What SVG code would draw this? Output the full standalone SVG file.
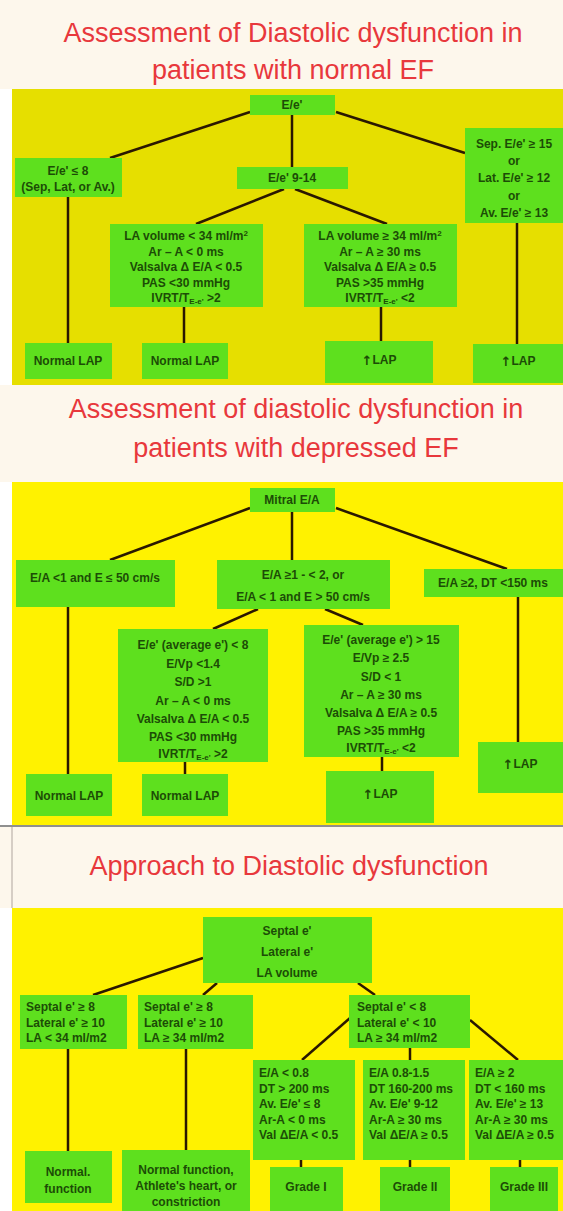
<svg xmlns="http://www.w3.org/2000/svg" width="563" height="1211" viewBox="0 0 563 1211">
<style>
.band{fill:#fdf7ec}
.p1{fill:#e6df00}
.p2{fill:#fff200}
.box{fill:#5ee01e}
.t{font-family:"Liberation Sans",Arial,sans-serif;font-weight:bold;font-size:12px;fill:#1c4c06;text-anchor:middle;dominant-baseline:central}
.tl{font-family:"Liberation Sans",Arial,sans-serif;font-weight:bold;font-size:12px;fill:#1c4c06;dominant-baseline:central}
.title{font-family:"Liberation Sans",Arial,sans-serif;font-size:27px;fill:#e8383c;text-anchor:middle}
.sub{font-size:8px}
.up{font-family:"DejaVu Sans",sans-serif;font-size:13px}
#connectors line{stroke:#2a1800;stroke-width:2.5}
</style>
<!-- backgrounds -->
<rect class="band" x="0" y="0" width="563" height="89"/>
<rect class="p1" x="12" y="89" width="551" height="296"/>
<rect class="band" x="0" y="385" width="563" height="97"/>
<rect class="p2" x="12" y="482" width="551" height="343"/>
<line x1="0" y1="826" x2="563" y2="826" stroke="#6a6a6a" stroke-width="1.5"/>
<rect class="band" x="0" y="827" width="563" height="81"/>
<line x1="12" y1="827" x2="12" y2="908" stroke="#c8c0b8" stroke-width="1.5"/>
<rect class="p2" x="12" y="908" width="551" height="303"/>
<text class="title" x="293" y="42">Assessment of Diastolic dysfunction in</text>
<text class="title" x="293" y="79">patients with normal EF</text>
<text class="title" x="296" y="418">Assessment of diastolic dysfunction in</text>
<text class="title" x="296" y="457">patients with depressed EF</text>
<text class="title" x="289" y="875">Approach to Diastolic dysfunction</text>

<g id="connectors">
<!-- section 1 -->
<line x1="250" y1="112" x2="110" y2="158"/>
<line x1="292" y1="115" x2="292" y2="167"/>
<line x1="336" y1="112" x2="465" y2="153"/>
<line x1="284" y1="189" x2="196" y2="224"/>
<line x1="295" y1="189" x2="387" y2="224"/>
<line x1="68" y1="197" x2="68" y2="343"/>
<line x1="184" y1="307" x2="184" y2="343"/>
<line x1="381" y1="307" x2="381" y2="341"/>
<line x1="517" y1="223" x2="517" y2="344"/>
<!-- section 2 -->
<line x1="250" y1="508" x2="110" y2="560"/>
<line x1="292" y1="512" x2="292" y2="560"/>
<line x1="336" y1="508" x2="507" y2="569"/>
<line x1="258" y1="609" x2="213" y2="629"/>
<line x1="325" y1="609" x2="363" y2="625"/>
<line x1="68" y1="607" x2="68" y2="774"/>
<line x1="185" y1="762" x2="185" y2="774"/>
<line x1="382" y1="757" x2="382" y2="771"/>
<line x1="518" y1="597" x2="518" y2="742"/>
<!-- section 3 -->
<line x1="203" y1="958" x2="93" y2="995"/>
<line x1="217" y1="983" x2="203" y2="995"/>
<line x1="358" y1="983" x2="375" y2="995"/>
<line x1="350" y1="1018" x2="302" y2="1060"/>
<line x1="410" y1="1048" x2="410" y2="1060"/>
<line x1="470" y1="1020" x2="518" y2="1060"/>
<line x1="68" y1="1049" x2="68" y2="1151"/>
<line x1="186" y1="1049" x2="186" y2="1150"/>
<line x1="301" y1="1160" x2="301" y2="1167"/>
<line x1="410" y1="1160" x2="410" y2="1167"/>
<line x1="520" y1="1160" x2="520" y2="1167"/>
</g>

<!-- Section 1 nodes -->
<g id="s1-ee">
<rect class="box" x="250" y="95" width="85" height="20"/>
<text class="t" x="292" y="105">E/e'</text>
</g>
<g id="s1-le8">
<rect class="box" x="15" y="158" width="107" height="39"/>
<text class="t" x="68" y="171">E/e' ≤ 8</text>
<text class="t" x="68" y="187">(Sep, Lat, or Av.)</text>
</g>
<g id="s1-914">
<rect class="box" x="237" y="167" width="111" height="22"/>
<text class="t" x="292" y="178">E/e' 9-14</text>
</g>
<g id="s1-ge15">
<rect class="box" x="465" y="128" width="98" height="95"/>
<text class="t" x="514" y="144">Sep. E/e' ≥ 15</text>
<text class="t" x="514" y="161">or</text>
<text class="t" x="514" y="178">Lat. E/e' ≥ 12</text>
<text class="t" x="514" y="196">or</text>
<text class="t" x="514" y="213">Av. E/e' ≥ 13</text>
</g>
<g id="s1-la-lt">
<rect class="box" x="110" y="224" width="153" height="83"/>
<text class="t" x="186" y="236">LA volume &lt; 34 ml/m<tspan class="sub" dy="-3">2</tspan></text>
<text class="t" x="186" y="252">Ar – A &lt; 0 ms</text>
<text class="t" x="186" y="267">Valsalva Δ E/A &lt; 0.5</text>
<text class="t" x="186" y="283">PAS &lt;30 mmHg</text>
<text class="t" x="186" y="298">IVRT/T<tspan class="sub" dy="3">E-e'</tspan><tspan dy="-3"> &gt;2</tspan></text>
</g>
<g id="s1-la-ge">
<rect class="box" x="304" y="224" width="153" height="83"/>
<text class="t" x="380" y="236">LA volume  ≥ 34 ml/m<tspan class="sub" dy="-3">2</tspan></text>
<text class="t" x="380" y="252">Ar – A ≥ 30 ms</text>
<text class="t" x="380" y="267">Valsalva Δ E/A ≥ 0.5</text>
<text class="t" x="380" y="283">PAS &gt;35 mmHg</text>
<text class="t" x="380" y="298">IVRT/T<tspan class="sub" dy="3">E-e'</tspan><tspan dy="-3"> &lt;2</tspan></text>
</g>
<g id="s1-out1">
<rect class="box" x="25" y="343" width="87" height="36"/>
<text class="t" x="68" y="361">Normal LAP</text>
</g>
<g id="s1-out2">
<rect class="box" x="142" y="343" width="86" height="36"/>
<text class="t" x="185" y="361">Normal LAP</text>
</g>
<g id="s1-out3">
<rect class="box" x="325" y="341" width="108" height="42"/>
<text class="t" x="379" y="360"><tspan class="up">↑</tspan>LAP</text>
</g>
<g id="s1-out4">
<rect class="box" x="473" y="344" width="90" height="39"/>
<text class="t" x="518" y="361"><tspan class="up">↑</tspan>LAP</text>
</g>

<!-- Section 2 nodes -->
<g id="s2-mitral">
<rect class="box" x="250" y="488" width="85" height="24"/>
<text class="t" x="292" y="500">Mitral E/A</text>
</g>
<g id="s2-left">
<rect class="box" x="16" y="560" width="159" height="47"/>
<text class="t" x="95" y="578">E/A &lt;1 and E ≤ 50 cm/s</text>
</g>
<g id="s2-mid">
<rect class="box" x="217" y="560" width="173" height="49"/>
<text class="t" x="303" y="575">E/A ≥1 - &lt; 2, or</text>
<text class="t" x="303" y="597">E/A &lt; 1 and E &gt; 50 cm/s</text>
</g>
<g id="s2-right">
<rect class="box" x="424" y="569" width="139" height="28"/>
<text class="t" x="493" y="583">E/A ≥2, DT &lt;150 ms</text>
</g>
<g id="s2-crit-low">
<rect class="box" x="118" y="629" width="150" height="133"/>
<text class="t" x="193" y="645">E/e' (average e') &lt; 8</text>
<text class="t" x="193" y="664">E/Vp &lt;1.4</text>
<text class="t" x="193" y="682">S/D &gt;1</text>
<text class="t" x="193" y="701">Ar – A &lt; 0 ms</text>
<text class="t" x="193" y="719">Valsalva Δ E/A &lt; 0.5</text>
<text class="t" x="193" y="737">PAS &lt;30 mmHg</text>
<text class="t" x="193" y="754">IVRT/T<tspan class="sub" dy="3">E-e'</tspan><tspan dy="-3"> &gt;2</tspan></text>
</g>
<g id="s2-crit-high">
<rect class="box" x="304" y="625" width="155" height="132"/>
<text class="t" x="381" y="640">E/e' (average e') &gt; 15</text>
<text class="t" x="381" y="658">E/Vp ≥ 2.5</text>
<text class="t" x="381" y="677">S/D &lt; 1</text>
<text class="t" x="381" y="695">Ar – A ≥ 30 ms</text>
<text class="t" x="381" y="713">Valsalva Δ E/A ≥ 0.5</text>
<text class="t" x="381" y="731">PAS &gt;35 mmHg</text>
<text class="t" x="381" y="748">IVRT/T<tspan class="sub" dy="3">E-e'</tspan><tspan dy="-3"> &lt;2</tspan></text>
</g>
<g id="s2-out1">
<rect class="box" x="26" y="774" width="86" height="42"/>
<text class="t" x="69" y="796">Normal LAP</text>
</g>
<g id="s2-out2">
<rect class="box" x="142" y="774" width="86" height="42"/>
<text class="t" x="185" y="796">Normal LAP</text>
</g>
<g id="s2-out3">
<rect class="box" x="326" y="771" width="108" height="52"/>
<text class="t" x="380" y="794"><tspan class="up">↑</tspan>LAP</text>
</g>
<g id="s2-out4">
<rect class="box" x="478" y="742" width="85" height="51"/>
<text class="t" x="520" y="764"><tspan class="up">↑</tspan>LAP</text>
</g>

<!-- Section 3 nodes -->
<g id="s3-root">
<rect class="box" x="203" y="917" width="169" height="66"/>
<text class="t" x="287" y="931">Septal e'</text>
<text class="t" x="287" y="952">Lateral e'</text>
<text class="t" x="287" y="973">LA volume</text>
</g>
<g id="s3-a">
<rect class="box" x="20" y="995" width="107" height="54"/>
<text class="tl" x="26" y="1007">Septal e' ≥ 8</text>
<text class="tl" x="26" y="1023">Lateral e' ≥ 10</text>
<text class="tl" x="26" y="1038">LA  &lt; 34 ml/m2</text>
</g>
<g id="s3-b">
<rect class="box" x="138" y="995" width="115" height="54"/>
<text class="tl" x="144" y="1007">Septal e' ≥ 8</text>
<text class="tl" x="144" y="1023">Lateral e' ≥ 10</text>
<text class="tl" x="144" y="1038">LA ≥ 34 ml/m2</text>
</g>
<g id="s3-c">
<rect class="box" x="349" y="995" width="121" height="53"/>
<text class="tl" x="357" y="1007">Septal e' &lt; 8</text>
<text class="tl" x="357" y="1023">Lateral e' &lt; 10</text>
<text class="tl" x="357" y="1038">LA ≥ 34 ml/m2</text>
</g>
<g id="s3-d">
<rect class="box" x="253" y="1060" width="102" height="100"/>
<text class="tl" x="259" y="1073">E/A &lt; 0.8</text>
<text class="tl" x="259" y="1089">DT &gt; 200 ms</text>
<text class="tl" x="259" y="1104">Av. E/e' ≤ 8</text>
<text class="tl" x="259" y="1120">Ar-A &lt; 0 ms</text>
<text class="tl" x="259" y="1135">Val ΔE/A &lt; 0.5</text>
</g>
<g id="s3-e">
<rect class="box" x="363" y="1060" width="102" height="100"/>
<text class="tl" x="369" y="1073">E/A  0.8-1.5</text>
<text class="tl" x="369" y="1089">DT 160-200 ms</text>
<text class="tl" x="369" y="1104">Av. E/e'  9-12</text>
<text class="tl" x="369" y="1120">Ar-A ≥ 30 ms</text>
<text class="tl" x="369" y="1135">Val ΔE/A ≥ 0.5</text>
</g>
<g id="s3-f">
<rect class="box" x="469" y="1060" width="94" height="100"/>
<text class="tl" x="475" y="1073">E/A ≥ 2</text>
<text class="tl" x="475" y="1089">DT &lt; 160 ms</text>
<text class="tl" x="475" y="1104">Av. E/e' ≥ 13</text>
<text class="tl" x="475" y="1120">Ar-A ≥ 30 ms</text>
<text class="tl" x="475" y="1135">Val ΔE/A ≥ 0.5</text>
</g>
<g id="s3-out1">
<rect class="box" x="25" y="1151" width="87" height="52"/>
<text class="t" x="68" y="1172">Normal.</text>
<text class="t" x="68" y="1189">function</text>
</g>
<g id="s3-out2">
<rect class="box" x="122" y="1150" width="128" height="61"/>
<text class="t" x="186" y="1170">Normal function,</text>
<text class="t" x="186" y="1186">Athlete's heart, or</text>
<text class="t" x="186" y="1202">constriction</text>
</g>
<g id="s3-out3">
<rect class="box" x="270" y="1167" width="73" height="44"/>
<text class="t" x="306" y="1187">Grade I</text>
</g>
<g id="s3-out4">
<rect class="box" x="380" y="1167" width="70" height="44"/>
<text class="t" x="415" y="1187">Grade II</text>
</g>
<g id="s3-out5">
<rect class="box" x="490" y="1167" width="68" height="44"/>
<text class="t" x="524" y="1187">Grade III</text>
</g>
</svg>
